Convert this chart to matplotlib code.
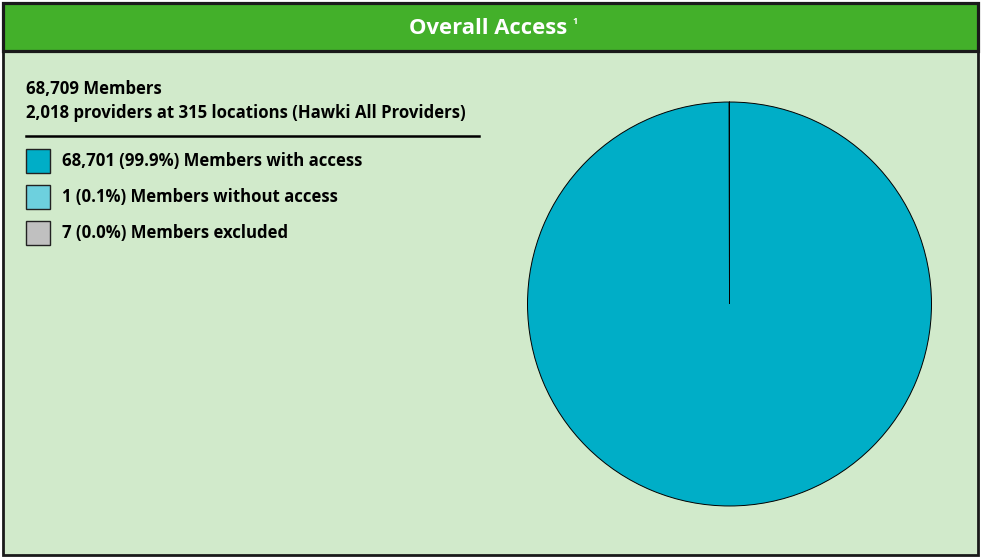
import matplotlib
matplotlib.use('Agg')
import matplotlib.pyplot as plt
import matplotlib.patches as patches

# data
TOTAL_MEMBERS = '68,709'
PROVIDER_LINE = '2,018 providers at 315 locations (Hawki All Providers)'
slice_labels = ['68,701 (99.9%) Members with access',
                '1 (0.1%) Members without access',
                '7 (0.0%) Members excluded']
slice_values = [68701, 1, 7]
slice_colors = ['#00AEC7', '#6DD0DE', '#C0C0C0']

W, H = 981, 558
plt.rcParams['font.family'] = ['Open Sans', 'DejaVu Sans']
fig = plt.figure(figsize=(W / 100, H / 100), dpi=100)
fig.patch.set_facecolor('white')

# background axes in pixel coordinates (y downward)
bg = fig.add_axes([0, 0, 1, 1])
bg.set_xlim(0, W)
bg.set_ylim(H, 0)
bg.axis('off')

bg.add_patch(patches.Rectangle((3, 51), 975, 504, facecolor='#D1EACB',
                               edgecolor='#1a1a1a', linewidth=2.0))
bg.add_patch(patches.Rectangle((3, 3), 975, 48, facecolor='#43B02A',
                               edgecolor='#1a1a1a', linewidth=2.3))
bg.text(488, 29, 'Overall Access', color='white', fontsize=15.8,
        fontweight='bold', ha='center', va='center')
bg.text(572, 21, '1', color='white', fontsize=6.5, fontweight='bold',
        ha='left', va='center')

TXT = 12.1
bg.text(26, 89, f'{TOTAL_MEMBERS} Members', fontsize=TXT, fontweight='bold',
        ha='left', va='center')
bg.text(26, 113, PROVIDER_LINE, fontsize=TXT, fontweight='bold',
        ha='left', va='center')
bg.plot([26, 479], [136, 136], color='black', linewidth=1.8)

for i, (label, color) in enumerate(zip(slice_labels, slice_colors)):
    y = 161 + i * 36
    bg.add_patch(patches.Rectangle((26, y - 12), 24, 24, facecolor=color,
                                   edgecolor='#222222', linewidth=1))
    bg.text(62, y, label, fontsize=TXT, fontweight='bold',
            ha='left', va='center')

# pie
cx, cy, r = 729.5, 304, 203
pie_ax = fig.add_axes([(cx - r) / W, (H - cy - r) / H, 2 * r / W, 2 * r / H])
pie_ax.pie(slice_values, colors=slice_colors, startangle=90, counterclock=False,
           radius=1, wedgeprops={'edgecolor': 'black', 'linewidth': 0.7})
pie_ax.set_xlim(-1.005, 1.005)
pie_ax.set_ylim(-1.005, 1.005)
pie_ax.set_aspect('auto')
pie_ax.axis('off')

fig.savefig('out.png', dpi=100)
